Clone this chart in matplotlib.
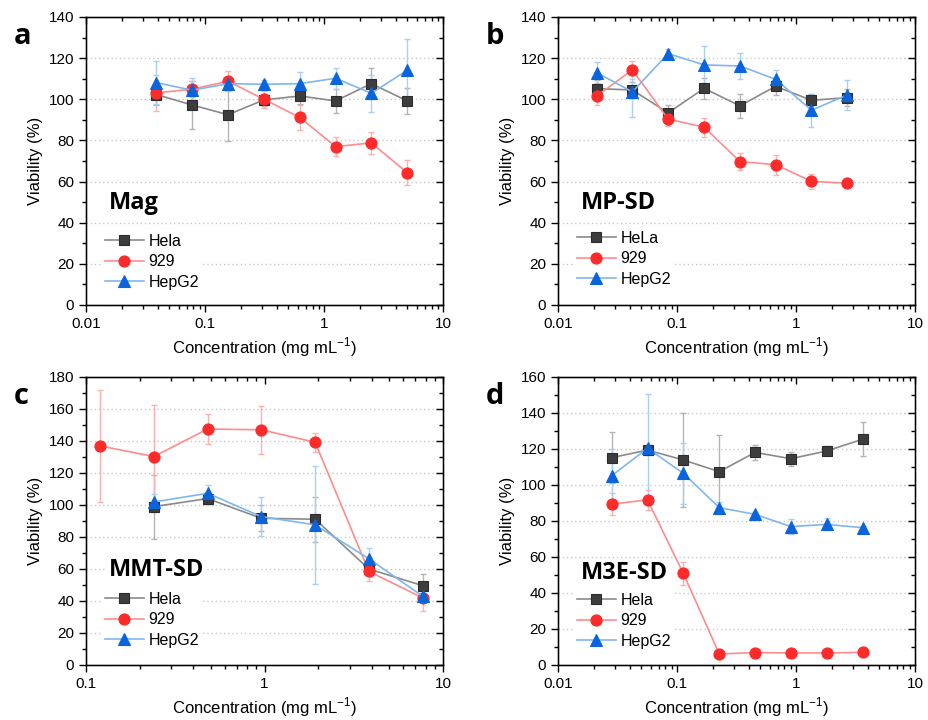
import numpy as np
import matplotlib
matplotlib.use('Agg')
import matplotlib.pyplot as plt
from matplotlib.ticker import MultipleLocator, NullFormatter, FixedFormatter, FixedLocator, LogLocator

plt.rcParams['font.family'] = ['Liberation Sans', 'DejaVu Sans']
plt.rcParams['font.size'] = 11

# ---- panel a: Mag ----
conc_a = [0.039, 0.078, 0.156, 0.3125, 0.625, 1.25, 2.5, 5.0]
hela_a = [102.3, 97.2, 92.5, 99.7, 101.6, 99.2, 107.6, 99.2]
hela_a_err = [5, 11.5, 13, 3, 4, 6, 7.7, 6.5]
l929_a = [103.1, 104.9, 108.8, 100.0, 91.2, 77.0, 78.8, 64.3]
l929_a_err = [8.7, 4, 5, 4, 6, 4.5, 5.3, 6]
hepg2_a = [108.1, 104.4, 107.6, 107.3, 107.6, 110.2, 102.9, 114.1]
hepg2_a_err = [10.5, 6, 3, 2, 5.5, 5, 9, 15]

# ---- panel b: MP-SD ----
conc_b = [0.0211, 0.0422, 0.0844, 0.169, 0.338, 0.675, 1.35, 2.7]
hela_b = [105.2, 104.5, 93.4, 105.3, 96.8, 106.3, 99.5, 100.8]
hela_b_err = [4, 4, 4, 5, 6, 4, 3, 4]
l929_b = [101.5, 114.3, 90.3, 86.5, 69.7, 68.2, 60.1, 59.2]
l929_b_err = [4.3, 4.5, 3.5, 4.6, 4, 4.8, 3.6, 1]
hepg2_b = [113.0, 103.6, 122.2, 116.7, 116.2, 109.7, 94.7, 102.1]
hepg2_b_err = [5.2, 12, 2.4, 9.3, 6.3, 4.3, 8, 7.3]

# ---- panel c: MMT-SD ----
conc_c = [0.12, 0.24, 0.48, 0.96, 1.92, 3.84, 7.68]
hela_c = [99.0, 104.0, 91.7, 91.1, 60.0, 49.6]
hela_c_err = [20, 3.6, 8, 14, 2, 7]
l929_c = [136.9, 130.3, 147.5, 147.0, 139.2, 58.5, 42.0]
l929_c_err = [35, 32, 9.5, 15, 6, 6, 8]
hepg2_c = [101.9, 107.3, 92.7, 87.6, 66.4, 43.0]
hepg2_c_err = [5, 5, 12, 37, 7, 3]

# ---- panel d: M3E-SD ----
conc_d = [0.0283, 0.0566, 0.113, 0.227, 0.453, 0.906, 1.81, 3.625]
hela_d = [115.2, 119.4, 113.9, 107.4, 118.1, 114.6, 118.9, 125.4]
hela_d_err = [14, 3, 26, 20.5, 4, 4, 2.5, 9.4]
l929_d = [89.4, 91.7, 50.9, 6.1, 6.9, 6.7, 6.7, 7.0]
l929_d_err = [6, 5.6, 6.5, 0.5, 0.5, 0.5, 0.5, 0.5]
hepg2_d = [105.2, 120.4, 106.5, 87.4, 83.7, 76.9, 78.1, 76.3]
hepg2_d_err = [15, 30, 17, 3, 1.5, 4.4, 3.3, 1]

styles = {
    'hela': dict(marker='s', line='#8a8a8a', face='#3d3d3d', edge='#2b2b2b', err='#b4b4b4', ms=7),
    '929': dict(marker='o', line='#ff8c8c', face='#ff2b2b', edge='#ff2b2b', err='#ffb0b0', ms=8),
    'hepg2': dict(marker='^', line='#80b6ef', face='#0a64dc', edge='#0a64dc', err='#a9cff5', ms=8),
}


def draw_series(ax, x, y, yerr, key, label):
    st = styles[key]
    ax.errorbar(x, y, yerr=yerr, fmt='none', ecolor=st['err'], elinewidth=1.0,
                capsize=2, capthick=1.0, zorder=2)
    ax.plot(x, y, color=st['line'], lw=1.2, marker=st['marker'], ms=st['ms'],
            mfc=st['face'], mec=st['edge'], mew=0.8, label=label, zorder=3)


def minor_log():
    return LogLocator(base=10, subs=np.arange(2, 10), numticks=10)


def style_axes(ax, xlim, ymax, ystep, xticks):
    ax.set_xscale('log')
    ax.set_xlim(*xlim)
    ax.set_ylim(0, ymax)
    ax.yaxis.set_major_locator(MultipleLocator(ystep))
    ax.yaxis.set_minor_locator(MultipleLocator(ystep / 2))
    ax.xaxis.set_major_locator(FixedLocator(xticks[0]))
    ax.xaxis.set_major_formatter(FixedFormatter(xticks[1]))
    ax.xaxis.set_minor_locator(minor_log())
    ax.xaxis.set_minor_formatter(NullFormatter())
    ax.tick_params(which='both', direction='out', top=False, right=False, width=1.0)
    ax.tick_params(which='major', length=5, labelsize=11)
    ax.tick_params(which='minor', length=3)
    for sp in ax.spines.values():
        sp.set_linewidth(1.0)
    ax.grid(axis='y', which='major', ls=(0, (1, 2)), color='#c8c8c8', lw=1.0, zorder=0)
    ax.set_axisbelow(True)

    # inward ticks on the right and top edges
    rx = ax.twinx()
    rx.set_ylim(0, ymax)
    rx.yaxis.set_major_locator(MultipleLocator(ystep))
    rx.yaxis.set_minor_locator(MultipleLocator(ystep / 2))
    rx.tick_params(which='both', direction='in', left=False, right=True,
                   labelright=False, width=1.0)
    rx.tick_params(which='major', length=5)
    rx.tick_params(which='minor', length=3)
    tx = ax.twiny()
    tx.set_xscale('log')
    tx.set_xlim(*xlim)
    tx.xaxis.set_major_locator(FixedLocator(xticks[0]))
    tx.xaxis.set_minor_locator(minor_log())
    tx.xaxis.set_minor_formatter(NullFormatter())
    tx.tick_params(which='both', direction='in', bottom=False, top=True,
                   labeltop=False, width=1.0)
    tx.tick_params(which='major', length=5)
    tx.tick_params(which='minor', length=3)

    ax.set_ylabel('Viability (%)', fontsize=12)
    ax.set_xlabel(r'Concentration (mg mL$^{\mathregular{-1}}$)', fontsize=12, labelpad=3)


fig = plt.figure(figsize=(9.29, 7.2), dpi=100)
ax_a = fig.add_axes([0.0926, 0.5764, 0.3843, 0.4])
ax_b = fig.add_axes([0.6006, 0.5764, 0.3843, 0.4])
ax_c = fig.add_axes([0.0926, 0.0764, 0.3843, 0.4])
ax_d = fig.add_axes([0.6006, 0.0764, 0.3843, 0.4])

ticks_001 = ([0.01, 0.1, 1, 10], ['0.01', '0.1', '1', '10'])
ticks_01 = ([0.1, 1, 10], ['0.1', '1', '10'])

panels = [
    (ax_a, 'a', 'Mag', 'Hela', (0.01, 10), 140, 20, ticks_001,
     (conc_a, hela_a, hela_a_err), (conc_a, l929_a, l929_a_err), (conc_a, hepg2_a, hepg2_a_err), 0.354, 0.15),
    (ax_b, 'b', 'MP-SD', 'HeLa', (0.01, 10), 140, 20, ticks_001,
     (conc_b, hela_b, hela_b_err), (conc_b, l929_b, l929_b_err), (conc_b, hepg2_b, hepg2_b_err), 0.354, 0.16),
    (ax_c, 'c', 'MMT-SD', 'Hela', (0.1, 10), 180, 20, ticks_01,
     (conc_c[1:], hela_c, hela_c_err), (conc_c, l929_c, l929_c_err), (conc_c[1:], hepg2_c, hepg2_c_err), 0.33, 0.157),
    (ax_d, 'd', 'M3E-SD', 'Hela', (0.01, 10), 160, 20, ticks_001,
     (conc_d, hela_d, hela_d_err), (conc_d, l929_d, l929_d_err), (conc_d, hepg2_d, hepg2_d_err), 0.32, 0.153),
]

for ax, letter, title, hela_name, xlim, ymax, ystep, xt, hs, ls, gs, ty_pos, leg_y in panels:
    style_axes(ax, xlim, ymax, ystep, xt)
    draw_series(ax, *hs, 'hela', hela_name)
    draw_series(ax, *ls, '929', '929')
    draw_series(ax, *gs, 'hepg2', 'HepG2')
    ax.text(0.063, ty_pos, title, transform=ax.transAxes, fontsize=17, fontweight='bold',
            family=['Open Sans', 'DejaVu Sans'], va='center', ha='left', zorder=4,
            bbox=dict(facecolor='white', edgecolor='none', pad=1))
    leg = ax.legend(loc='center left', bbox_to_anchor=(0.045, leg_y), frameon=True,
                    fontsize=11.5, handlelength=2.4, handletextpad=0.3, labelspacing=0.35,
                    borderpad=0.2, borderaxespad=0)
    leg.get_frame().set_edgecolor('none')
    leg.get_frame().set_facecolor('white')
    leg.get_frame().set_alpha(1)
    leg.set_zorder(4)
    pos = ax.get_position()
    fig.text(pos.x0 - 0.078, pos.y1 - 0.027, letter, fontsize=21, fontweight='bold',
             family=['Open Sans', 'DejaVu Sans'], va='center', ha='left')

fig.savefig('out.png', dpi=100)
